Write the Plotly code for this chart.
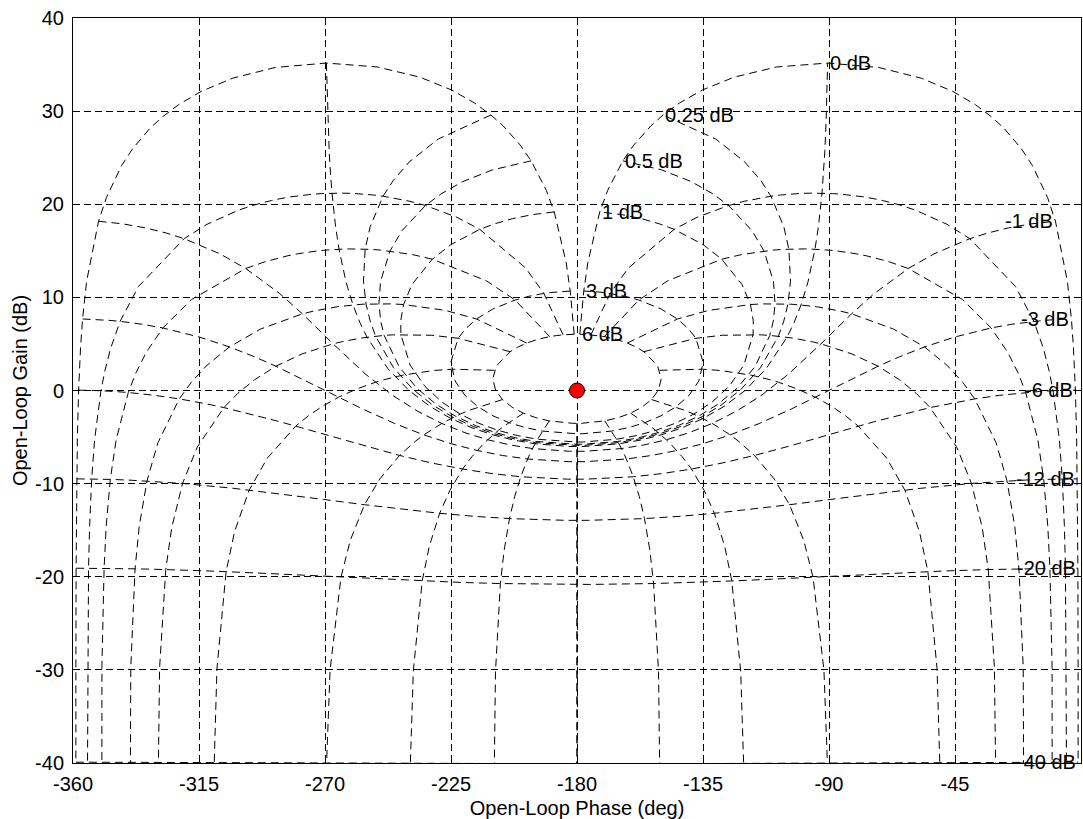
import numpy as np
import plotly.graph_objects as go

# Closed-loop magnitude levels (dB) shown as iso-gain curves
cl_gain_db = [6, 3, 1, 0.5, 0.25, 0, -1, -3, -6, -12, -20, -40]
# Closed-loop phase levels (deg) shown as iso-phase curves
cl_phase_deg = [1, 5, 10, 20, 30, 50, 90, 120, 150, 180]
# Closed-loop gain samples (dB) along each iso-phase curve
iso_phase_gain_samples = [6, 3, 2, 1, 0.75, 0.5, 0.4, 0.3, 0.25, 0.2, 0.15, 0.1, 0.05, 0,
                          -0.05, -0.1, -0.15, -0.2, -0.25, -0.3, -0.4, -0.5, -0.75, -1,
                          -2, -3, -4, -5, -6, -9, -12, -16, -20, -30, -40, -50, -60, -70,
                          -80, -90, -100, -110, -120, -130, -140, -150, -160, -170, -180,
                          -190, -200, -220, -240, -260, -280, -300]
# Closed-loop phase samples (deg) along each iso-gain curve (first half, mirrored below)
iso_gain_phase_samples = [1, 2, 3, 4, 5, 7.5, 10, 15, 20, 25, 30, 45, 60, 75, 90, 105,
                          120, 135, 150, 175, 180]
# Critical point
crit_phase = [-180]
crit_gain = [0]
# Axis ticks
x_ticks = [-360, -315, -270, -225, -180, -135, -90, -45, 0]
y_ticks = [-40, -30, -20, -10, 0, 10, 20, 30, 40]

FONT = "Liberation Sans, Arial, Helvetica, sans-serif"
FONT_SIZE = 20
CURVE_DASH = "8px,5px"
GRID_DASH = "7px,4px"


def open_loop(gain_db, phase_deg):
    """Open-loop phase (deg, in [-360, 0)) and gain (dB) for a closed-loop value."""
    z = 10 ** (np.asarray(gain_db, float) / 20) * np.exp(1j * np.deg2rad(phase_deg))
    h = z / (1 - z)
    ph = np.mod(np.degrees(np.angle(h)) + 360, 360) - 360
    return ph, 20 * np.log10(np.abs(h))


fig = go.Figure()
line_style = dict(color="black", width=1, dash=CURVE_DASH)

# Iso-phase curves and their mirror images about -180 deg
for p in cl_phase_deg:
    ph, gn = open_loop(iso_phase_gain_samples, p)
    fig.add_trace(go.Scatter(x=ph, y=gn, mode="lines", line=line_style,
                             hoverinfo="skip", showlegend=False))
    fig.add_trace(go.Scatter(x=-360 - ph, y=gn, mode="lines", line=line_style,
                             hoverinfo="skip", showlegend=False))

# Iso-gain curves with their labels
phases_full = iso_gain_phase_samples + [360 - p for p in iso_gain_phase_samples[-2::-1]]
for g in cl_gain_db:
    ph, gn = open_loop(g, np.array(phases_full, float))
    fig.add_trace(go.Scatter(x=ph, y=gn, mode="lines", line=line_style,
                             hoverinfo="skip", showlegend=False))
    fig.add_annotation(x=ph[-1], y=gn[-1], text=f"{g:g} dB", showarrow=False,
                       xanchor="left" if g >= 0 else "right", yanchor="middle",
                       font=dict(family=FONT, size=FONT_SIZE, color="black"))

# Critical point marker
fig.add_trace(go.Scatter(x=crit_phase, y=crit_gain, mode="markers",
                         marker=dict(size=15, color="red", line=dict(color="black", width=1)),
                         hoverinfo="skip", showlegend=False))

axis_common = dict(showline=True, linecolor="black", linewidth=1, mirror="allticks",
                   ticks="inside", ticklen=6, tickcolor="black",
                   showgrid=True, gridcolor="black", gridwidth=1, griddash=GRID_DASH,
                   zeroline=False, tickfont=dict(family=FONT, size=FONT_SIZE, color="black"))

fig.update_xaxes(range=[-360, 0], tickvals=x_ticks, ticktext=[str(v) for v in x_ticks],
                 ticklabelstandoff=3,
                 title=dict(text="Open-Loop Phase (deg)", standoff=8,
                            font=dict(family=FONT, size=FONT_SIZE, color="black")),
                 **axis_common)
fig.update_yaxes(range=[-40, 40], tickvals=y_ticks, ticktext=[str(v) for v in y_ticks],
                 ticklabelstandoff=4,
                 title=dict(text="Open-Loop Gain (dB)", standoff=2,
                            font=dict(family=FONT, size=FONT_SIZE, color="black")),
                 **axis_common)

fig.update_layout(width=1083, height=819, autosize=False,
                  margin=dict(l=73, r=2, t=18, b=56, autoexpand=False),
                  paper_bgcolor="white", plot_bgcolor="white",
                  font=dict(family=FONT, color="black"))

fig.write_html("out.html")
